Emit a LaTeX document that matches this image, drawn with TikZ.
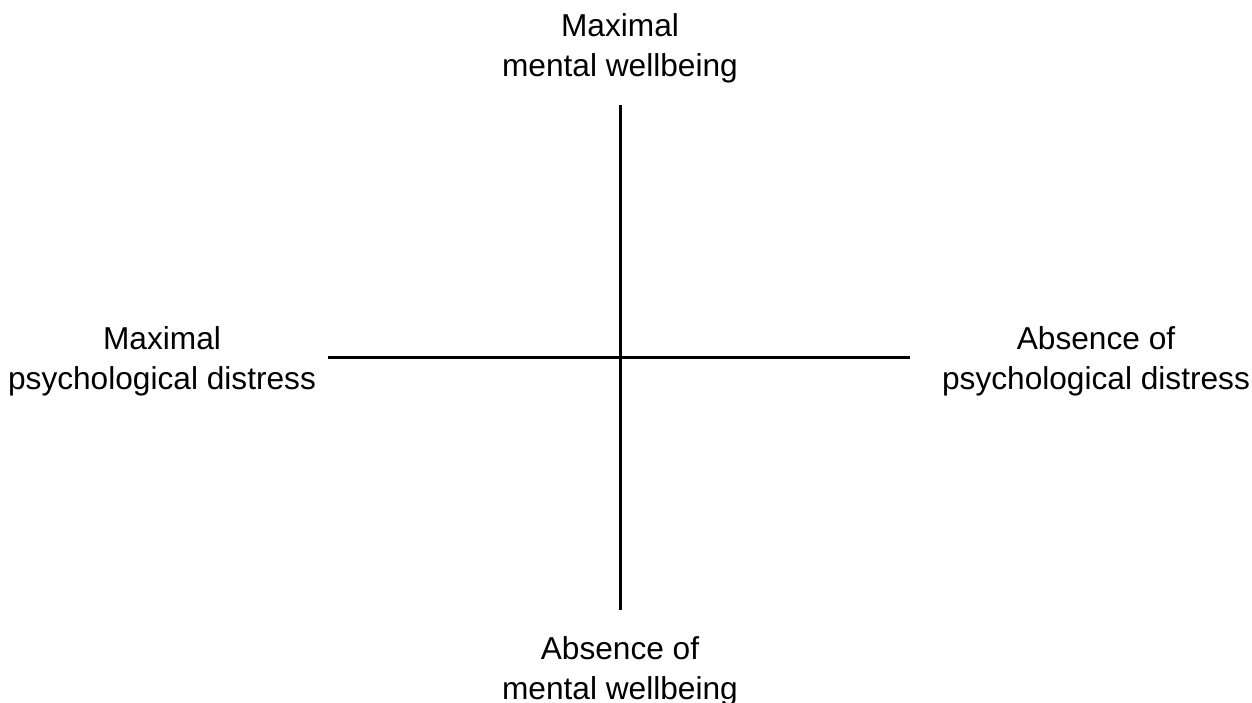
\documentclass[tikz,border=0pt]{standalone}
\usepackage{fontspec}
\setmainfont{Liberation Sans}
\usetikzlibrary{positioning}

\begin{document}
\begin{tikzpicture}[x=0.01cm,y=-0.01cm,
    lbl/.style={align=center,inner sep=0pt,font=\fontsize{9}{11.4}\selectfont},
    axis/.style={line width=0.85pt}]
    \useasboundingbox (0,0) rectangle (1252,702);
    \coordinate (top) at (620,105);
    \coordinate (bot) at (620,610);
    \coordinate (lft) at (328,357);
    \coordinate (rgt) at (910,357);
    \node[lbl](wbmax) at (620,48){Maximal\\mental wellbeing};
    \node[lbl](wbnone) at (620,671){Absence of\\mental wellbeing};
    \node[lbl](dsmax) at (162,361){Maximal\\psychological distress};
    \node[lbl](dsnone) at (1096,361){Absence of\\psychological distress};
    \draw[axis](top)--(bot);
    \draw[axis](lft)--(rgt);
\end{tikzpicture}
\end{document}
